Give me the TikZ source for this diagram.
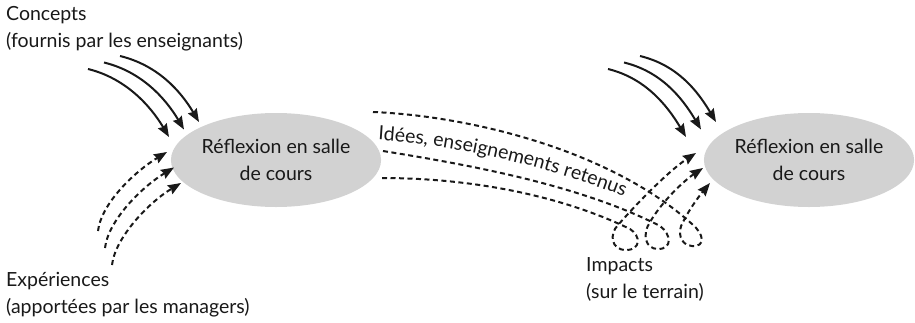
\documentclass[tikz,border=0pt]{standalone}
\usepackage{fontspec}
\setmainfont{Lato}
\usetikzlibrary{shapes.geometric,arrows.meta,decorations.text}

\begin{document}
\begin{tikzpicture}[x=1pt,y=-1pt,
  every node/.style={font=\fontsize{19.5}{27}\selectfont, text=black!90},
  cloud/.style={ellipse, fill=gray!35, minimum width=208pt, minimum height=94pt, align=center, inner sep=0pt},
  caption/.style={anchor=north west, align=left, inner sep=0pt},
  flow/.style={line width=2pt, black!90, -{Stealth[length=13pt,width=10pt,inset=1.5pt]}},
  idea/.style={line width=2pt, black!90, dash pattern=on 5pt off 3.5pt},
  ideatip/.style={idea, -{Stealth[length=13pt,width=10pt,inset=1.5pt]}}]
 \useasboundingbox (0,0) rectangle (915,322);

 % the two classrooms
 \node[cloud] (class1) at (276,160) {Réflexion en salle\\de cours};
 \node[cloud] (class2) at (809,160) {Réflexion en salle\\de cours};

 % labels
 \node[caption] (concepts) at (6,6) {Concepts\\(fournis par les enseignants)};
 \node[caption] (exper) at (6,272) {Expériences\\(apportées par les managers)};
 \node[caption] (impacts) at (586,257) {Impacts\\(sur le terrain)};

 % concepts coming in, before both sessions
 \foreach \n/\s/\t in {a/0/0, b/520/517} {
   \foreach \i in {0,1,2} {
     \coordinate (cs\n\i) at (88+\s+16*\i, 69-6.5*\i);
     \coordinate (ce\n\i) at (169+\t+15*\i, 137-7.5*\i);
     \draw[flow] (cs\n\i) .. controls +(37,9) and +(-19,-32) .. (ce\n\i);
   }
 }

 % experiences of the managers
 \foreach \i in {0,1,2} {
   \coordinate (es\i) at (98+7*\i, 231+17*\i);
   \coordinate (ee\i) at (167+7*\i, 152+15.5*\i);
   \draw[ideatip] (es\i) .. controls +(3,-27) and +(-33,20) .. (ee\i);
 }

 % ideas taken to the field, back to class
 \coordinate (ia) at (373,112);
 \coordinate (ib) at (383,151);
 \coordinate (ic) at (382,178);
 \coordinate (ta) at (710,183);
 \coordinate (tb) at (703,168);
 \coordinate (tc) at (696,153);
 \draw[ideatip] (ia) .. controls (470,116) and (610,150) .. (692,224)
   .. controls (704,234) and (706,247) .. (692,246)
   .. controls (680,245) and (677,232) .. (683,222)
   .. controls (690,208) and (700,195) .. (ta);
 \draw[ideatip] (ib) .. controls (470,165) and (580,185) .. (660,226)
   .. controls (671,234) and (673,249) .. (658,249)
   .. controls (645,249) and (642,234) .. (650,222)
   .. controls (663,200) and (685,180) .. (tb);
 \draw[ideatip] (ic) .. controls (470,178) and (560,195) .. (630,229)
   .. controls (641,236) and (641,250) .. (626,250)
   .. controls (611,250) and (609,234) .. (618,225)
   .. controls (640,200) and (670,170) .. (tc);

 \coordinate (ts) at (378,140);
 \coordinate (te) at (640,203);
 \path[decorate, decoration={text along path, text align=left,
   text={|\fontsize{19.5}{27}\selectfont\color{black!90}|Idées, enseignements retenus}}]
   (ts) .. controls (470,146) and (565,172) .. (te);
\end{tikzpicture}
\end{document}
